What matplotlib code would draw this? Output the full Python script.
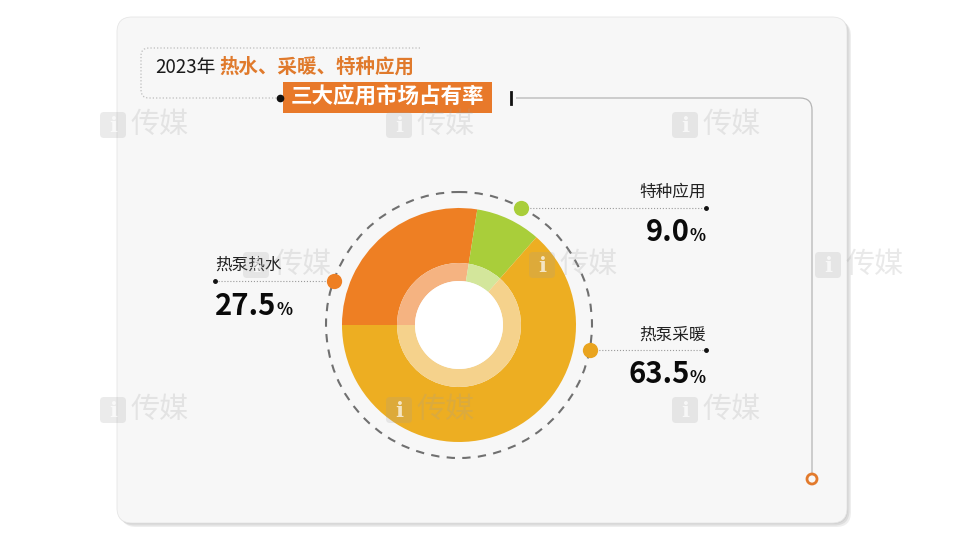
import numpy as np
import matplotlib.pyplot as plt
from matplotlib.patches import FancyBboxPatch, Rectangle, Circle, PathPatch
from matplotlib.path import Path

plt.rcParams['font.family'] = ['Noto Sans CJK SC', 'DejaVu Sans']

# data
labels = ['热泵热水', '特种应用', '热泵采暖']
shares = [27.5, 9.0, 63.5]
colors = ['#EE7F23', '#A9CE3A', '#EDAE22']
inner_colors = ['#F5B381', '#D3E69B', '#F5D28C']
dot_colors = ['#EE7F23', '#A9CE3A', '#E9A41F']

title_year = '2023年'
title_apps = '热水、采暖、特种应用'
subtitle = '三大应用市场占有率'
watermark = '传媒'

# layout (pixels, y downward)
cx, cy = 459, 325
dot_angle = [160.5, 62.0, -11.0]
label_side = ['left', 'right', 'right']
label_x = [215, 706, 706]

fig = plt.figure(figsize=(9.6, 5.4), dpi=100)
fig.patch.set_facecolor('white')
ax = fig.add_axes([0, 0, 1, 1])
ax.set_xlim(0, 960)
ax.set_ylim(540, 0)
ax.set_aspect('equal')
ax.axis('off')
renderer = fig.canvas.get_renderer()

num_font = dict(family=['Noto Sans CJK SC', 'DejaVu Sans'],
                fontweight='heavy', color='#0A0A0A', va='baseline', zorder=6)


def text_width(t):
    bb = t.get_window_extent(renderer=renderer)
    return bb.width  # 1 data unit == 1 pixel here


# card with a soft shadow
for off, a in [(4, 0.25), (2.5, 0.35), (1, 0.4)]:
    ax.add_patch(FancyBboxPatch((117 + off, 17 + off), 730, 506,
                                boxstyle='round,pad=0,rounding_size=15',
                                fc='#BDBDBD', ec='none', alpha=a, zorder=0))
ax.add_patch(FancyBboxPatch((117, 17), 730, 506,
                            boxstyle='round,pad=0,rounding_size=15',
                            fc='#F7F7F7', ec='#E6E6E6', lw=0.6, zorder=1))

# donut
ax.pie(shares, colors=colors, radius=117, center=(cx, cy), startangle=180,
       counterclock=True, frame=True,
       wedgeprops=dict(width=55, edgecolor='none', zorder=3))
ax.pie(shares, colors=inner_colors, radius=62, center=(cx, cy), startangle=180,
       counterclock=True, frame=True,
       wedgeprops=dict(width=18, edgecolor='none', zorder=3))
ax.add_patch(Circle((cx, cy), 44, fc='white', ec='none', zorder=4))
ax.add_patch(Circle((cx, cy), 133, fc='none', ec='#707070', lw=1.5,
                    ls=(0, (4, 3.5)), zorder=2))

# labels with leader lines
for i, name in enumerate(labels):
    t = np.deg2rad(dot_angle[i])
    dx, dy = cx + 133 * np.cos(t), cy - 133 * np.sin(t)
    lx = label_x[i]
    ax.plot([dx, lx], [dy, dy], color='#9A9A9A', lw=0.8, ls=':', zorder=2)
    ax.plot(lx, dy, 'o', color='#111111', ms=2.5, zorder=5)
    ax.plot(dx, dy, 'o', color=dot_colors[i], ms=11, mec='none', zorder=5)
    left = label_side[i] == 'left'
    ax.text(lx, dy - 15, name, ha='left' if left else 'right', va='center',
            fontsize=12, color='#222222', zorder=6)
    num = f'{shares[i]:.1f}'
    base = dy + 34 if left else dy + 33
    if left:
        tn = ax.text(lx, base, num, ha='left', fontsize=21, **num_font)
        ax.text(lx + text_width(tn), base, '%', ha='left', fontsize=12,
                **num_font)
    else:
        tp = ax.text(lx, base, '%', ha='right', fontsize=12, **num_font)
        ax.text(lx - text_width(tp), base, num, ha='right', fontsize=21,
                **num_font)

# title block
r = 8
verts = [(420, 48), (141 + r, 48), (141, 48), (141, 48 + r),
         (141, 98 - r), (141, 98), (141 + r, 98), (280, 98)]
codes = [Path.MOVETO, Path.LINETO, Path.CURVE3, Path.CURVE3,
         Path.LINETO, Path.CURVE3, Path.CURVE3, Path.LINETO]
ax.add_patch(PathPatch(Path(verts, codes), fc='none', ec='#BBBBBB',
                       lw=0.9, ls=':', zorder=2))
ax.text(155, 67, title_year, ha='left', va='center', fontsize=13.5,
        color='#1A1A1A', zorder=6)
ax.text(219, 67, title_apps, ha='left', va='center', fontsize=14,
        fontweight='bold', color='#E07A2C', zorder=6)
ax.add_patch(Rectangle((283, 82), 209, 31, fc='#E8792A', ec='none', zorder=5))
ax.text(387.5, 97, subtitle, ha='center', va='center', fontsize=15.5,
        fontweight='bold', color='white', zorder=6)
ax.plot(280, 98, 'o', color='#111111', ms=4.5, zorder=6)

# connector on the right
ax.plot([511, 511], [92, 104], color='#111111', lw=2, zorder=5)
rr = 12
verts = [(516, 98), (812 - rr, 98), (812, 98), (812, 98 + rr), (812, 473)]
codes = [Path.MOVETO, Path.LINETO, Path.CURVE3, Path.CURVE3, Path.LINETO]
ax.add_patch(PathPatch(Path(verts, codes), fc='none', ec='#B5B5B5',
                       lw=0.9, zorder=2))
ax.add_patch(Circle((812, 479), 5, fc='#F7F7F7', ec='#E27A2C', lw=2, zorder=5))

# watermarks
marks = [(100, 125), (386, 125), (672, 125),
         (243, 265), (529, 265), (815, 265),
         (100, 410), (386, 410), (672, 410)]
for wx, wy in marks:
    ax.add_patch(FancyBboxPatch((wx, wy - 13), 26, 26,
                                boxstyle='round,pad=0,rounding_size=4',
                                fc='#9E9E9E', ec='none', alpha=0.2, zorder=7))
    ax.text(wx + 13, wy + 1, 'i', ha='center', va='center', fontsize=15,
            fontweight='bold', color='white', alpha=0.7, zorder=7,
            family='DejaVu Serif')
    ax.text(wx + 30, wy, watermark, ha='left', va='center', fontsize=21,
            fontweight='light', color='#9E9E9E', alpha=0.22, zorder=7)

fig.savefig('out.png', dpi=100, facecolor=fig.get_facecolor())
